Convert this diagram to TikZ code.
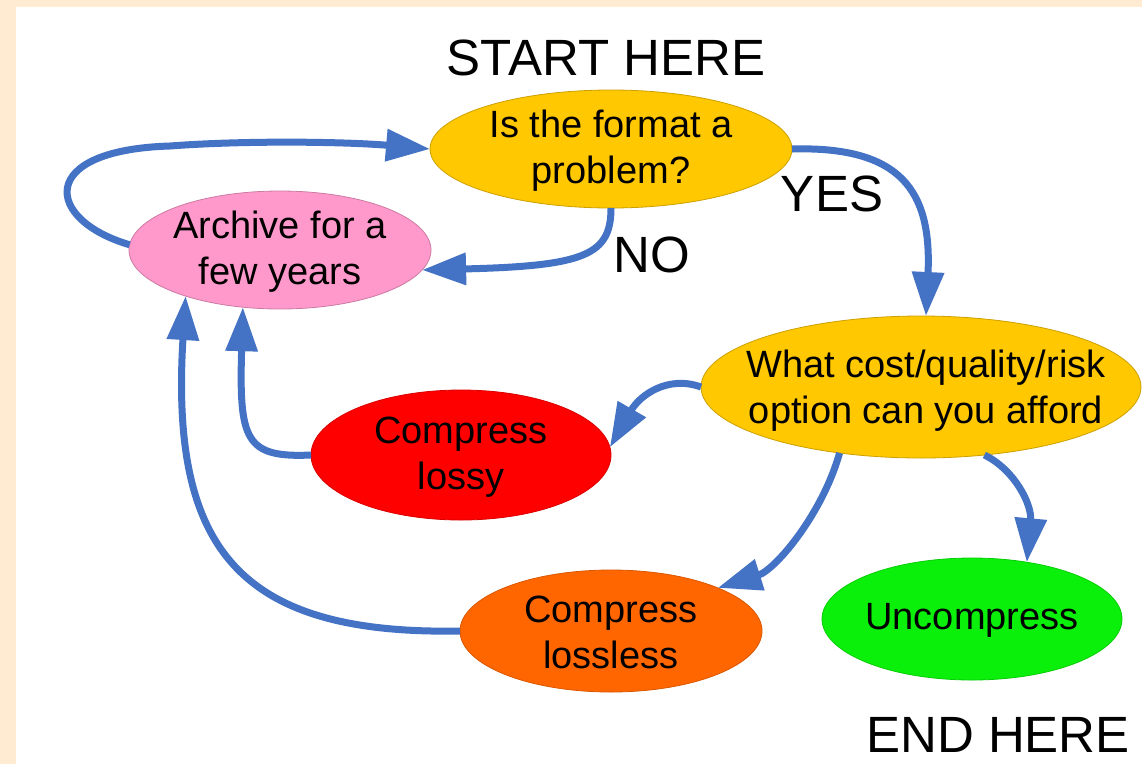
\documentclass[tikz,border=0pt]{standalone}
\usepackage{fontspec}
\setmainfont{Liberation Sans}
\usetikzlibrary{arrows.meta,shapes.geometric}
\definecolor{bgbeige}{RGB}{255,235,210}
\definecolor{flowblue}{RGB}{68,114,196}
\definecolor{qyellow}{RGB}{255,200,0}
\definecolor{apink}{RGB}{255,153,204}
\definecolor{lred}{RGB}{255,0,0}
\definecolor{lorange}{RGB}{255,102,0}
\definecolor{ugreen}{RGB}{10,240,10}
\tikzset{
  ell/.style={ellipse, inner sep=0pt, outer sep=0pt, line width=0.8pt},
  lbl/.style={inner sep=0pt, align=center, font=\fontsize{38}{46}\selectfont},
  big/.style={inner sep=0pt, font=\fontsize{51}{60}\selectfont},
  flow/.style={draw=flowblue, line width=7pt, -{Triangle[length=44pt,width=31pt]}}
}
\begin{document}
\begin{tikzpicture}[x=1pt,y=-1pt]
\fill[bgbeige] (0,0) rectangle (1142,764);
\fill[white] (16,7) rectangle (1142,764);
\useasboundingbox (0,0) rectangle (1142,764);

% ellipses
\node[ell, fill=qyellow, draw=qyellow!80!black, minimum width=362pt, minimum height=118pt] (q1) at (611,149) {};
\node[ell, fill=apink, draw=apink!80!black, minimum width=302pt, minimum height=118pt] (ar) at (280,250) {};
\node[ell, fill=qyellow, draw=qyellow!80!black, minimum width=440pt, minimum height=142pt] (q2) at (921,387) {};
\node[ell, fill=lred, draw=lred!85!black, minimum width=300pt, minimum height=130pt] (red) at (461,455) {};
\node[ell, fill=lorange, draw=lorange!85!black, minimum width=302pt, minimum height=122pt] (or) at (611,631) {};
\node[ell, fill=ugreen, draw=ugreen!85!black, minimum width=300pt, minimum height=122pt] (gr) at (972,619) {};

% texts
\node[lbl] (q1t) at (611,151) {Is the format a\\problem?};
\node[lbl] (art) at (280,252) {Archive for a\\few years};
\node[lbl] (q2t) at (926,391) {What cost/quality/risk\\option can you afford};
\node[lbl] (redt) at (461,457) {Compress\\lossy};
\node[lbl] (ort) at (611,632) {Compress\\lossless};
\node[lbl] (grt) at (972,620) {Uncompress};

\node[big] (start) at (606,58) {START HERE};
\node[big] (yes) at (832,194) {YES};
\node[big] (no) at (652,255) {NO};
\node[big] (end) at (998,735) {END HERE};

% connectors
\draw[flow] (ar.178) .. controls (45,220) and (35,150) .. (170,146)
  .. controls (250,140) and (350,142) .. (q1.180);
\draw[flow] (q1.270) .. controls (611,255) and (585,266) .. (ar.-8);
\draw[flow] (q1.0) .. controls (900,146) and (932,190) .. (q2.86);
\draw[flow] (q2.180) .. controls (668,375) and (640,395) .. (red.3);
\draw[flow] (red.180) .. controls (245,458) and (239,440) .. (ar.237);
\draw[flow] (or.180) .. controls (240,635) and (170,550) .. (ar.206);
\draw[flow] (q2.219) .. controls (822,515) and (775,570) .. (or.22);
\draw[flow] (q2.-47) .. controls (1015,470) and (1032,505) .. (gr.46);
\end{tikzpicture}
\end{document}
